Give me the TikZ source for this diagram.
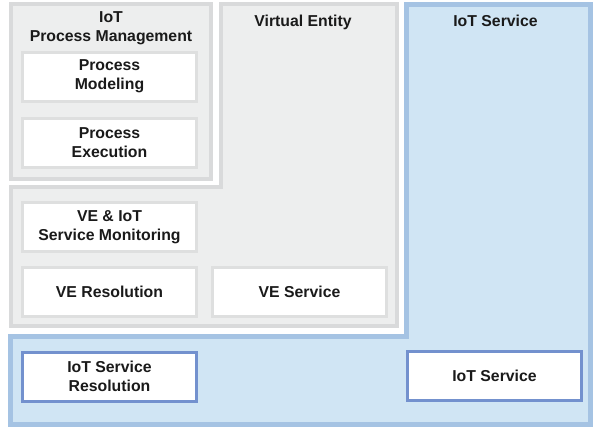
\documentclass[tikz,border=0pt]{standalone}
\usepackage{fontspec}
\setmainfont{Liberation Sans}
\usepackage{tikz}
\usetikzlibrary{positioning}
\definecolor{areagray}{HTML}{EDEEEE}
\definecolor{linegray}{HTML}{D9DADB}
\definecolor{boxgray}{HTML}{DEDFDF}
\definecolor{areablue}{HTML}{D0E5F4}
\definecolor{lineblue}{HTML}{A5C3E3}
\definecolor{boxblue}{HTML}{7391CE}
\definecolor{txt}{HTML}{1A1A1A}

\begin{document}
\begin{tikzpicture}[x=1pt, y=-1pt, font=\fontsize{15.8}{19}\selectfont\bfseries, text=txt,
  area/.style={fill=areagray, draw=linegray, line width=4pt},
  iotarea/.style={fill=areablue, draw=lineblue, line width=5pt},
  box/.style={draw=boxgray, fill=white, line width=3pt, minimum width=174pt, minimum height=49pt, align=center, inner sep=0pt},
  iotbox/.style={box, draw=boxblue},
  title/.style={anchor=north, align=center, inner sep=0pt}]
\useasboundingbox (0,0) rectangle (594,429);

% IoT Service layer
\draw[iotarea] (406.5,4.5) -- (590.5,4.5) -- (590.5,424.5) -- (10.5,424.5) -- (10.5,336.5) -- (406.5,336.5) -- cycle;
% Virtual Entity layer
\draw[area] (221,4) -- (397,4) -- (397,326) -- (11,326) -- (11,187) -- (221,187) -- cycle;
% IoT Process Management layer
\draw[area] (11,4) rectangle (211,179);

\node[title] (pmtitle) at (111,11.5) {IoT\\Process Management};
\node[title] (vetitle) at (303,15) {Virtual Entity};
\node[title] (iottitle) at (495.5,15) {IoT Service};

\node[box] (model) at (109.5,76.5) {Process\\Modeling};
\node[box, below=14pt of model] (exec) {Process\\Execution};

\node[box] (monitor) at (109.5,227) {VE \& IoT\\Service Monitoring};
\node[box, below=13pt of monitor] (veres) {VE Resolution};
\node[box, right=13pt of veres] (veserv) {VE Service};

\node[iotbox] (iotres) at (109.5,376.5) {IoT Service\\Resolution};
\node[iotbox] (iotserv) at (494.5,376) {IoT Service};
\end{tikzpicture}
\end{document}
